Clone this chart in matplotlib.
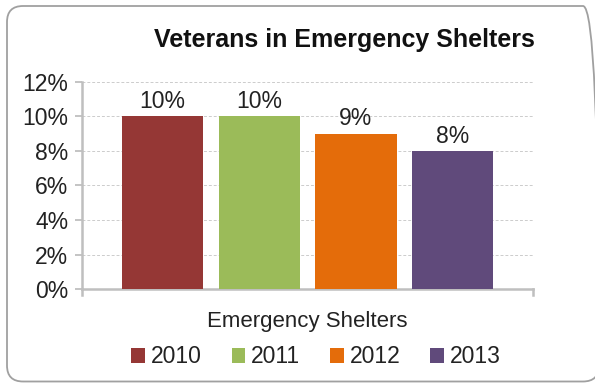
import matplotlib.pyplot as plt
from matplotlib.patches import FancyBboxPatch
from matplotlib.ticker import FuncFormatter

years  = ['2010', '2011', '2012', '2013']
values = [10, 10, 9, 8]
colors = ['#953735', '#9bbb59', '#e46c0a', '#604a7b']
yticks = [0, 2, 4, 6, 8, 10, 12]

plt.rcParams['font.family'] = ['Liberation Sans', 'DejaVu Sans']

fig = plt.figure(figsize=(5.95, 3.83), dpi=100)
ax = fig.add_axes([0.138, 0.2454, 0.758, 0.5406])

# chart frame (in inches, runs slightly past the right and bottom edges)
frame = FancyBboxPatch((0.07, 0.015), 5.92, 3.755, boxstyle='round,pad=0,rounding_size=0.16',
                       transform=fig.dpi_scale_trans, fill=False, edgecolor='#a0a0a0',
                       linewidth=1.3)
fig.patches.append(frame)

for i, (yr, v, c) in enumerate(zip(years, values, colors)):
    ax.bar(i, v, width=0.84, color=c, label=yr, zorder=3)
    ax.text(i, v + 0.2, '%d%%' % v, ha='center', va='bottom', fontsize=16.5, color='#222222')

ax.set_xlim(-0.834, 3.834)
ax.set_ylim(0, 12)
ax.set_yticks(yticks)
ax.yaxis.set_major_formatter(FuncFormatter(lambda y, p: '%d%%' % y))
ax.tick_params(axis='y', labelsize=16.5, labelcolor='#222222', color='#bfbfbf',
               length=5, width=1.3, pad=5)
ax.set_xticks([])
ax.grid(axis='y', linestyle=(0, (3, 2)), color='#cccccc', linewidth=0.7, zorder=0)

for s in ['top', 'right']:
    ax.spines[s].set_visible(False)
ax.spines['left'].set_color('#bfbfbf')
ax.spines['left'].set_linewidth(1.8)
ax.spines['bottom'].set_color('#bfbfbf')
ax.spines['bottom'].set_linewidth(1.8)
# small end marks on the category axis
ax.plot([1, 1], [0, -0.03], transform=ax.transAxes, color='#bfbfbf', lw=1.8, clip_on=False)
ax.plot([0, 0], [0, -0.03], transform=ax.transAxes, color='#bfbfbf', lw=1.8, clip_on=False)

ax.set_xlabel('Emergency Shelters', fontsize=16, color='#222222', labelpad=16)

fig.text(0.579, 0.896, 'Veterans in Emergency Shelters', ha='center', va='center',
         fontsize=18, fontweight='bold', color='#111111')

fig.legend(loc='center', bbox_to_anchor=(0.531, 0.068), ncol=4, frameon=False,
           fontsize=16.5, handlelength=0.6, handleheight=0.6, handletextpad=0.25,
           columnspacing=1.3, labelcolor='#222222')

fig.savefig('out.png', dpi=100)
